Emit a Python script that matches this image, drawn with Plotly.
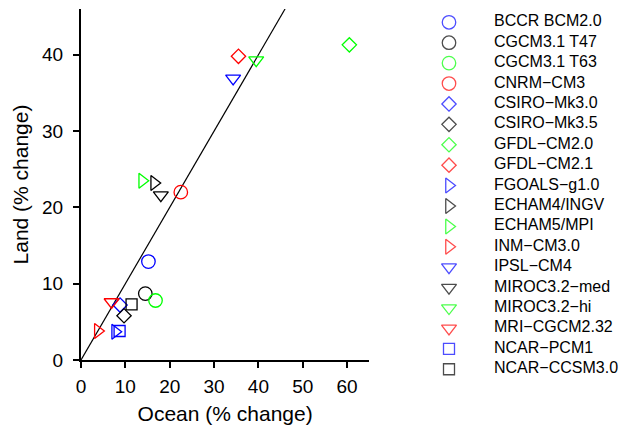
import plotly.graph_objects as go

models = ["BCCR BCM2.0", "CGCM3.1 T47", "CGCM3.1 T63", "CNRM−CM3", "CSIRO−Mk3.0",
          "CSIRO−Mk3.5", "GFDL−CM2.0", "GFDL−CM2.1", "FGOALS−g1.0", "ECHAM4/INGV",
          "ECHAM5/MPI", "INM−CM3.0", "IPSL−CM4", "MIROC3.2−med", "MIROC3.2−hi",
          "MRI−CGCM2.32", "NCAR−PCM1", "NCAR−CCSM3.0"]
ocean = [15.2, 14.5, 16.8, 22.5, 8.8, 9.7, 60.5, 35.5, 7.7, 16.5, 13.8, 3.8, 34.3, 18.0, 39.5, 6.9, 8.7, 11.4]
land = [12.9, 8.7, 7.8, 22.0, 7.2, 5.8, 41.3, 39.8, 3.7, 23.2, 23.5, 3.8, 36.9, 21.6, 39.3, 7.6, 3.8, 7.3]
symbols = ["circle-open"] * 4 + ["diamond-open"] * 4 + ["triangle-right-open"] * 4 + \
          ["triangle-down-open"] * 4 + ["square-open"] * 2
colors = ["#0000FF", "#000000", "#00FF00", "#FF0000"] * 4 + ["#0000FF", "#000000"]
sizes_by_symbol = {"circle-open": 13.5, "diamond-open": 11, "triangle-right-open": 13,
                   "triangle-down-open": 13, "square-open": 11}

fit_x = [0, 46]
fit_slope = 1.0

x_ticks = [0, 10, 20, 30, 40, 50, 60]
y_ticks = [0, 10, 20, 30, 40]

W, H = 621, 429
ML, MR, MT, MB = 81, 0, 9, 49
PW, PH = W - ML - MR, H - MT - MB


def px_x(p):
    return (p - ML) / PW


def px_y(p):
    return (H - MB - p) / PH


FONT = "Liberation Sans, Arial, Helvetica, sans-serif"

fig = go.Figure()

fig.add_trace(go.Scatter(
    x=fit_x, y=[fit_slope * v for v in fit_x], mode="lines",
    line=dict(color="black", width=1.2), showlegend=False, hoverinfo="skip"))

for m, xo, yl, s, c in zip(models, ocean, land, symbols, colors):
    fig.add_trace(go.Scatter(
        x=[xo], y=[yl], mode="markers", name=m, showlegend=False,
        marker=dict(symbol=s, color=c, size=sizes_by_symbol[s], line=dict(width=1.3, color=c)),
        cliponaxis=False))

idx = list(range(len(models)))
fig.add_trace(go.Scatter(
    x=[0] * len(models), y=idx, mode="markers", xaxis="x2", yaxis="y2", showlegend=False,
    marker=dict(symbol=symbols, color=colors, size=[sizes_by_symbol[s] for s in symbols],
                line=dict(width=1.3, color=colors)),
    cliponaxis=False, hoverinfo="skip"))
fig.add_trace(go.Scatter(
    x=[1] * len(models), y=idx, mode="text", text=models, textposition="middle right",
    textfont=dict(family=FONT, size=16, color="black"),
    xaxis="x2", yaxis="y2", showlegend=False, cliponaxis=False, hoverinfo="skip"))

spacing = 20.41
top_idx_px = 22.3
y2_top = (MT - top_idx_px) / spacing
y2_bot = (H - MB - top_idx_px) / spacing

axis_common = dict(showline=True, linecolor="black", linewidth=2, ticks="outside",
                   ticklen=6, tickwidth=2, tickcolor="black", showgrid=False, zeroline=False,
                   tickfont=dict(family=FONT, size=19, color="black"))

fig.update_layout(
    width=W, height=H,
    margin=dict(l=ML, r=MR, t=MT, b=MB),
    paper_bgcolor="white", plot_bgcolor="white",
    font=dict(family=FONT, color="black"),
    xaxis=dict(range=[0, 65], domain=[0, px_x(369.3)], tickvals=x_ticks,
               title=dict(text="Ocean (% change)", font=dict(family=FONT, size=21), standoff=11),
               anchor="y", ticklabelstandoff=2, **axis_common),
    yaxis=dict(range=[0, 46], domain=[px_y(360), 1], tickvals=y_ticks,
               title=dict(text="Land (% change)", font=dict(family=FONT, size=21), standoff=8),
               anchor="x", ticklabelstandoff=6, **axis_common),
    xaxis2=dict(range=[0, 1], domain=[px_x(449), px_x(494)], visible=False, anchor="y2"),
    yaxis2=dict(range=[y2_bot, y2_top], domain=[0, 1], visible=False, anchor="x2"),
)

fig.write_html("out.html")
